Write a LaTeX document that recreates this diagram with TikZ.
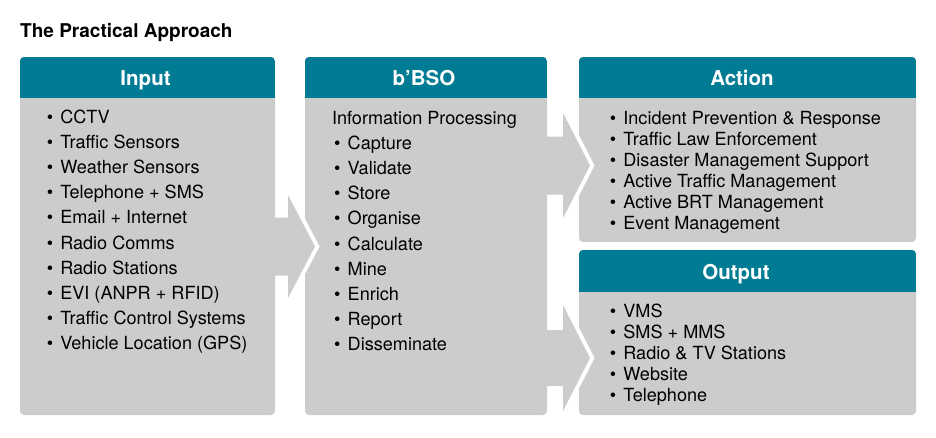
\documentclass[tikz,border=0pt]{standalone}
\usepackage{fontspec}
\setmainfont{TeX Gyre Heros}
\definecolor{headteal}{RGB}{0,123,148}
\definecolor{panelgray}{RGB}{204,204,204}

% grey panel with a teal header bar: x1, y1, x2, y2, header bottom
\newcommand{\panel}[5]{%
  \fill[panelgray, rounded corners=4] (#1,#2) rectangle (#3,#4);
  \begin{scope}
    \clip[rounded corners=4] (#1,#2) rectangle (#3,#4);
    \fill[headteal] (#1,#2) rectangle (#3,#5);
  \end{scope}}

% block arrow: shaft start, head base, tip, centre y, shaft half, head half
\newcommand{\blockarrow}[6]{%
  \draw[white, line width=8] (#2,#4-#6) -- (#3,#4) -- (#2,#4+#6);
  \fill[panelgray] (#1,#4-#5) -- (#2,#4-#5) -- (#2,#4-#6) -- (#3,#4)
    -- (#2,#4+#6) -- (#2,#4+#5) -- (#1,#4+#5) -- cycle;}

\tikzset{
  titletext/.style={anchor=base west, inner sep=0, font=\fontsize{19}{22}\selectfont\bfseries},
  headtext/.style={anchor=base, inner sep=0, text=white, font=\fontsize{20.5}{24}\selectfont\bfseries},
  itemtext/.style={anchor=base west, inner sep=0, font=\fontsize{18.1}{22}\selectfont},
}
\newcommand{\bul}{\makebox[13.5pt][l]{•}}

\begin{document}
\begin{tikzpicture}[line cap=round,line join=miter,x=1pt,y=-1pt]
		\useasboundingbox (0,0) rectangle (936,437);
		%%%%%%%%%%%%%%%%%%%%% P A N E L S %%%%%%%%%%%%%%%%%%%%%
		\panel{20}{57}{275}{415}{98}
		\panel{305}{57}{547}{415}{98}
		\panel{579}{57}{916}{242}{98}
		\panel{579}{250}{916}{415}{292}
		
		%%%% FLECHAS
		\blockarrow{270}{288}{315}{246.5}{29}{51.5}
		\blockarrow{542}{563}{590}{165.5}{29}{52.5}
		\blockarrow{542}{563}{590}{358}{28}{53}
		
		%%%% TITULOS
		\node[titletext] (title) at (20,37.5) {The Practical Approach};
		\node[headtext] (inputhead) at (145.5,85.5) {Input};
		\node[headtext] (bsohead) at (424,85.5) {b’BSO};
		\node[headtext] (actionhead) at (742,85.5) {Action};
		\node[headtext] (outputhead) at (736,279.5) {Output};
		
		%%%% LISTAS
		\foreach \t [count=\i] in {CCTV, Traffic Sensors, Weather Sensors,
			Telephone + SMS, Email + Internet, Radio Comms, Radio Stations,
			EVI (ANPR + RFID), Traffic Control Systems, Vehicle Location (GPS)}
			\node[itemtext] (input-\i) at (46.6,123.5+25.1*\i-25.1) {\bul\t};
		
		\node[itemtext] (bsotop) at (331.8,124.5) {Information Processing};
		\foreach \t [count=\i] in {Capture, Validate, Store, Organise, Calculate,
			Mine, Enrich, Report, Disseminate}
			\node[itemtext] (bso-\i) at (334,149.6+25.1*\i-25.1) {\bul\t};
		
		\foreach \t [count=\i] in {Incident Prevention \& Response,
			Traffic Law Enforcement, Disaster Management Support,
			Active Traffic Management, Active BRT Management, Event Management}
			\node[itemtext] (action-\i) at (609.7,124.5+20.9*\i-20.9) {\bul\t};
		
		\foreach \t [count=\i] in {VMS, SMS + MMS, Radio \& TV Stations,
			Website, Telephone}
			\node[itemtext] (output-\i) at (609.7,317.5+21*\i-21) {\bul\t};
	\end{tikzpicture}
\end{document}
